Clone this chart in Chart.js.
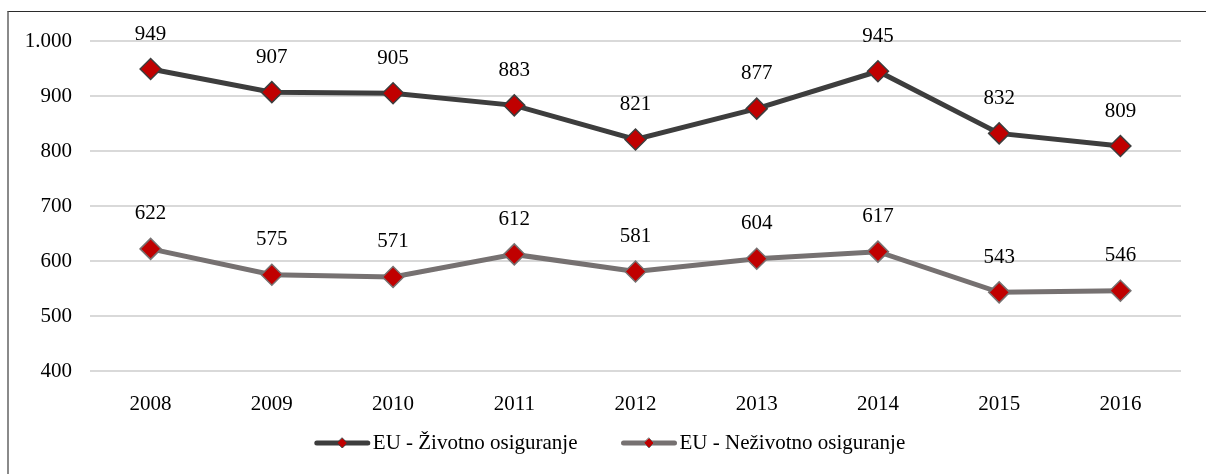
<!DOCTYPE html>
<html>
<head>
<meta charset="utf-8">
<script src="https://cdn.jsdelivr.net/npm/chart.js@4.4.1/dist/chart.umd.min.js"></script>
<style>
  html, body { margin: 0; padding: 0; background: #fff; overflow: hidden; }
  #wrap { position: relative; width: 1206px; height: 474px; }
  #myChart { position: absolute; left: 0; top: 0; }
  #frame {
    position: absolute; left: 7px; top: 11px; width: 1300px; height: 600px;
    border-top: 1px solid #2b2b2b; border-left: 2px solid #8a8a8a;
    pointer-events: none;
  }
</style>
</head>
<body>
<div id="wrap">
  <canvas id="myChart" width="1206" height="474"></canvas>
  <div id="frame"></div>
</div>
<script>
// Data
const years = ['2008', '2009', '2010', '2011', '2012', '2013', '2014', '2015', '2016'];
const zivotno = [949, 907, 905, 883, 821, 877, 945, 832, 809];
const nezivotno = [622, 575, 571, 612, 581, 604, 617, 543, 546];
const seriesNames = ['EU - Životno osiguranje', 'EU - Neživotno osiguranje'];

const FONT = '"Liberation Serif", "Times New Roman", serif';
const FSIZE = 21;

// 1000 -> "1.000"
function fmt(v) {
    return String(v).replace(/\B(?=(\d{3})+(?!\d))/g, '.');
}

// Value labels above each point
const valueLabels = {
    id: 'valueLabels',
    afterDatasetsDraw(chart) {
        const ctx = chart.ctx;
        ctx.save();
        ctx.font = FSIZE + 'px ' + FONT;
        ctx.fillStyle = '#000';
        ctx.textAlign = 'center';
        ctx.textBaseline = 'middle';
        chart.data.datasets.forEach((ds, i) => {
            const meta = chart.getDatasetMeta(i);
            meta.data.forEach((pt, j) => {
                ctx.fillText(fmt(ds.data[j]), pt.x, pt.y - 35);
            });
        });
        ctx.restore();
    }
};

// Legend: line with diamond, like the spreadsheet one
const lineLegend = {
    id: 'lineLegend',
    afterDraw(chart) {
        const ctx = chart.ctx;
        ctx.save();
        ctx.font = FSIZE + 'px ' + FONT;
        ctx.textBaseline = 'middle';
        const y = 443;
        const lineLen = 55, gap = 3, spacing = 44;
        const widths = chart.data.datasets.map(ds => lineLen + gap + ctx.measureText(ds.label).width);
        const total = widths.reduce((a, b) => a + b, 0) + spacing * (widths.length - 1);
        let x = 610 - total / 2;
        chart.data.datasets.forEach((ds, i) => {
            ctx.strokeStyle = ds.borderColor;
            ctx.lineWidth = 5;
            ctx.lineCap = 'round';
            ctx.beginPath();
            ctx.moveTo(x + 2, y);
            ctx.lineTo(x + lineLen - 2, y);
            ctx.stroke();
            // small diamond
            const cx = x + lineLen / 2, r = 5;
            ctx.beginPath();
            ctx.moveTo(cx, y - r);
            ctx.lineTo(cx + r, y);
            ctx.lineTo(cx, y + r);
            ctx.lineTo(cx - r, y);
            ctx.closePath();
            ctx.fillStyle = ds.pointBackgroundColor;
            ctx.fill();
            ctx.lineWidth = 1;
            ctx.strokeStyle = ds.pointBorderColor;
            ctx.stroke();
            ctx.fillStyle = '#000';
            ctx.textAlign = 'left';
            ctx.fillText(ds.label, x + lineLen + gap, y);
            x += widths[i] + spacing;
        });
        ctx.restore();
    }
};

function makeSet(label, data, color) {
    return {
        label: label,
        data: data,
        borderColor: color,
        borderWidth: 5,
        pointStyle: 'rectRot',
        pointRadius: 10.5,
        pointHoverRadius: 10.5,
        pointBackgroundColor: '#c00000',
        pointBorderColor: color,
        pointBorderWidth: 1.5,
        tension: 0,
        fill: false
    };
}

const ctx = document.getElementById('myChart').getContext('2d');

const myChart = new Chart(ctx, {
    type: 'line',
    data: {
        labels: years,
        datasets: [
            makeSet(seriesNames[0], zivotno, '#3d3d3d'),
            makeSet(seriesNames[1], nezivotno, '#767171')
        ]
    },
    options: {
        responsive: false,
        animation: false,
        layout: {
            padding: { left: 0, right: 25, top: 41, bottom: 0 }
        },
        scales: {
            x: {
                offset: true,
                grid: { display: false },
                border: { display: false },
                ticks: {
                    color: '#000',
                    font: { family: FONT, size: FSIZE },
                    padding: 13,
                    maxRotation: 0
                },
                afterFit(scale) { scale.height = 103; }
            },
            y: {
                min: 400,
                max: 1000,
                border: { display: false },
                grid: { color: '#d9d9d9', lineWidth: 2, drawTicks: false },
                ticks: {
                    stepSize: 100,
                    color: '#000',
                    font: { family: FONT, size: FSIZE },
                    padding: 18,
                    callback: v => fmt(v)
                },
                afterFit(scale) { scale.width = 90; }
            }
        },
        plugins: {
            legend: { display: false },
            tooltip: { enabled: false },
            title: { display: false }
        }
    },
    plugins: [valueLabels, lineLegend]
});
</script>
</body>
</html>
